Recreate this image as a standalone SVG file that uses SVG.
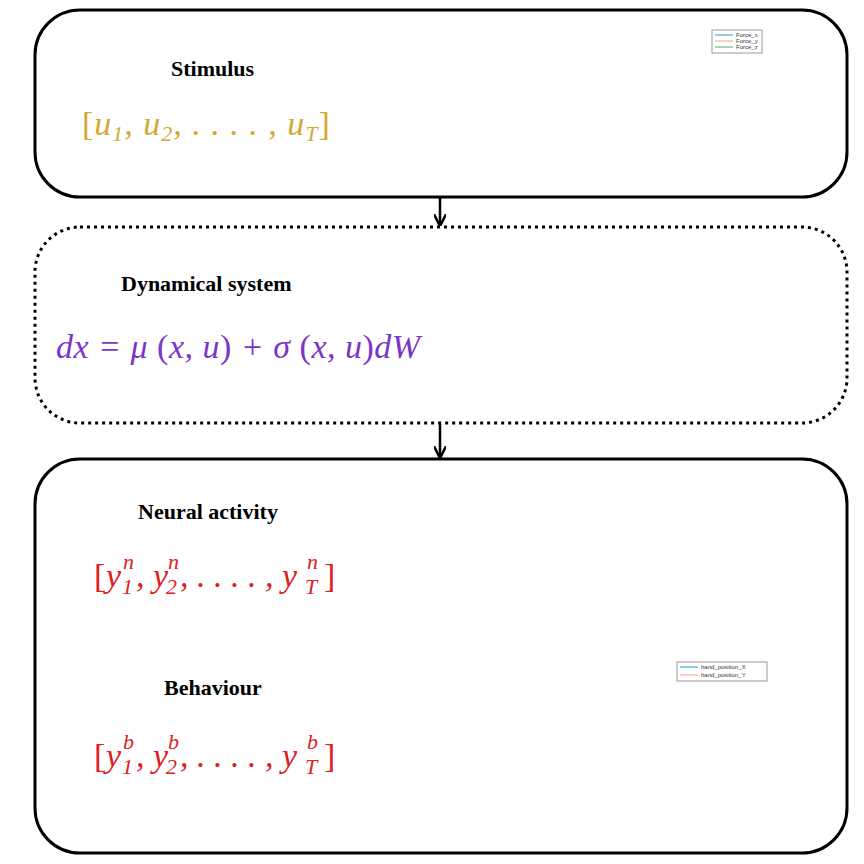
<svg xmlns="http://www.w3.org/2000/svg" width="864" height="864" viewBox="0 0 864 864">
<style>
.box{fill:none;stroke:#000;stroke-width:3}
.t{font-family:"Liberation Serif",serif;font-weight:bold;font-size:22px;fill:#000}
.m{font-family:"Liberation Serif",serif;font-style:italic;font-size:34px}
.u{font-style:normal}
.s{font-size:22px}
.lg{font-family:"Liberation Sans",sans-serif;font-size:6px;fill:#333}
</style>
<defs><marker id="a" viewBox="0 0 10 10" refX="9" refY="5" markerWidth="5" markerHeight="5" orient="auto"><path d="M0,0L10,5L0,10" fill="none" stroke="#000" stroke-width="2"/></marker></defs>
<rect width="864" height="864" fill="#fff"/>
<g id="stimulus">
<rect class="box" x="35" y="10" width="812" height="187" rx="45"/>
<text class="t" x="171" y="76">Stimulus</text>
<text class="m" x="82" y="135" fill="#d4a830" letter-spacing="1"><tspan class="u">[</tspan>u<tspan class="s" dy="6">1</tspan><tspan dy="-6">, u</tspan><tspan class="s" dy="6">2</tspan><tspan dy="-6">, . . . . , u</tspan><tspan class="s" dy="6">T</tspan><tspan class="u" dy="-6">]</tspan></text>
<rect x="712" y="30" width="50" height="23" fill="#fff" stroke="#999" stroke-width="1"/>
<line x1="715" y1="35" x2="733" y2="35" stroke="#1f9bd7"/><text class="lg" x="736" y="37">Force_x</text>
<line x1="715" y1="41" x2="733" y2="41" stroke="#f4a582"/><text class="lg" x="736" y="43">Force_y</text>
<line x1="715" y1="47" x2="733" y2="47" stroke="#5aa07a"/><text class="lg" x="736" y="49">Force_z</text>
</g>
<g id="dynamics">
<rect class="box" x="35" y="227" width="812" height="196" rx="45" stroke-dasharray="3,4"/>
<text class="t" x="121" y="291">Dynamical system</text>
<text class="m" x="56" y="358" fill="#7b35c8" letter-spacing="0.5">dx = μ <tspan class="u">(</tspan>x, u<tspan class="u">)</tspan> + σ <tspan class="u">(</tspan>x, u<tspan class="u">)</tspan>dW</text>
</g>
<g id="output">
<rect class="box" x="35" y="459" width="812" height="394" rx="45"/>
<text class="t" x="138" y="519">Neural activity</text>
<text class="m" fill="#e02020"><tspan class="u" x="94" y="587">[</tspan><tspan x="106" y="587">y</tspan><tspan x="136" y="587">, y</tspan><tspan x="180" y="587">, . . . . , y</tspan><tspan class="u" x="324" y="587">]</tspan></text>
<text class="m s" fill="#e02020"><tspan x="123" y="569">n</tspan><tspan x="168" y="569">n</tspan><tspan x="307" y="569">n</tspan></text>
<text class="m s" fill="#e02020"><tspan x="122" y="594">1</tspan><tspan x="166" y="594">2</tspan><tspan x="305" y="594">T</tspan></text>
<text class="t" x="164" y="695">Behaviour</text>
<text class="m" fill="#e02020"><tspan class="u" x="94" y="767">[</tspan><tspan x="106" y="767">y</tspan><tspan x="136" y="767">, y</tspan><tspan x="180" y="767">, . . . . , y</tspan><tspan class="u" x="324" y="767">]</tspan></text>
<text class="m s" fill="#e02020"><tspan x="123" y="749">b</tspan><tspan x="168" y="749">b</tspan><tspan x="307" y="749">b</tspan></text>
<text class="m s" fill="#e02020"><tspan x="122" y="774">1</tspan><tspan x="166" y="774">2</tspan><tspan x="305" y="774">T</tspan></text>
<rect x="677" y="662" width="90" height="19" fill="#fff" stroke="#999" stroke-width="1"/>
<line x1="680" y1="667" x2="698" y2="667" stroke="#1f9bd7"/><text class="lg" x="701" y="669">hand_position_X</text>
<line x1="680" y1="675" x2="698" y2="675" stroke="#f4a582"/><text class="lg" x="701" y="677">hand_position_Y</text>
</g>
<g id="connectors" stroke="#000" stroke-width="2.5">
<line x1="440" y1="198" x2="440" y2="225" marker-end="url(#a)"/>
<line x1="440" y1="424" x2="440" y2="457" marker-end="url(#a)"/>
</g>
</svg>
